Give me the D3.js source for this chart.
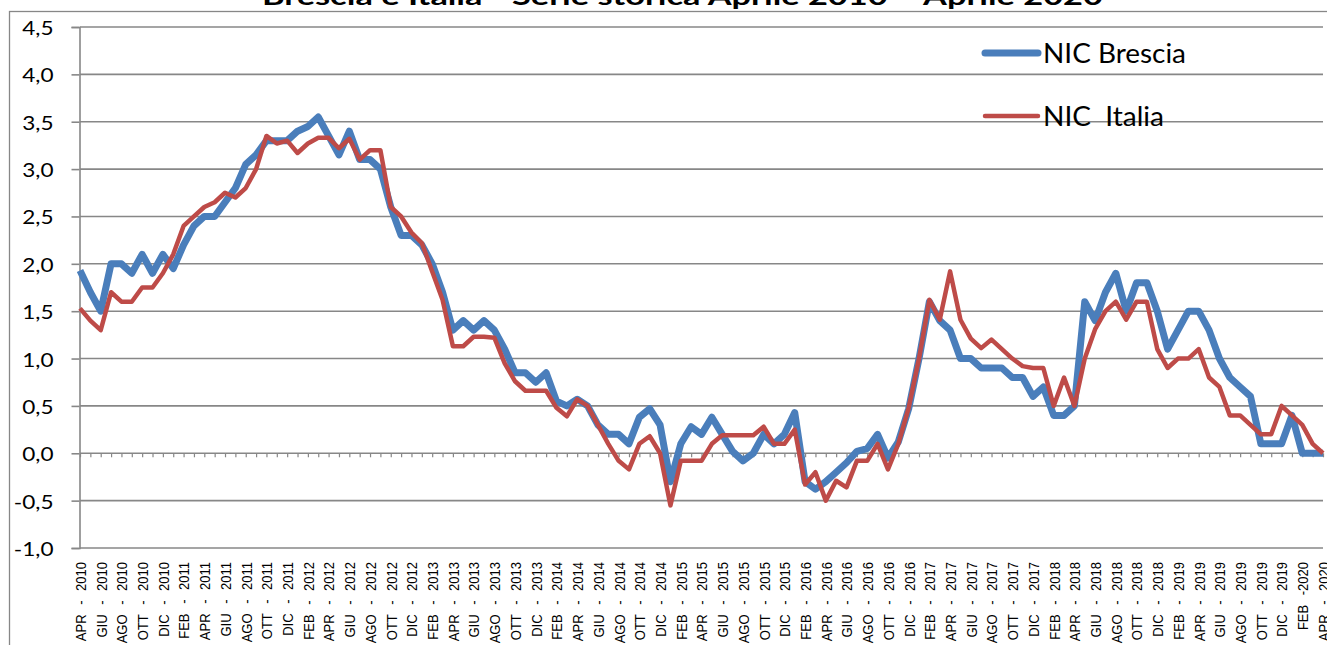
<!DOCTYPE html>
<html>
<head>
<meta charset="utf-8">
<script src="https://cdn.jsdelivr.net/npm/d3@7"></script>
<style>
body { margin: 0; background: #fff; }
svg { display: block; }
</style>
</head>
<body>
<div id="main_div"></div>
<script>
var categories = [
    "APR - 2010","MAG - 2010","GIU - 2010","LUG - 2010","AGO - 2010","SET - 2010","OTT - 2010","NOV - 2010","DIC - 2010",
    "GEN - 2011","FEB - 2011","MAR - 2011","APR - 2011","MAG - 2011","GIU - 2011","LUG - 2011","AGO - 2011","SET - 2011","OTT - 2011","NOV - 2011","DIC - 2011",
    "GEN - 2012","FEB - 2012","MAR - 2012","APR - 2012","MAG - 2012","GIU - 2012","LUG - 2012","AGO - 2012","SET - 2012","OTT - 2012","NOV - 2012","DIC - 2012",
    "GEN - 2013","FEB - 2013","MAR - 2013","APR - 2013","MAG - 2013","GIU - 2013","LUG - 2013","AGO - 2013","SET - 2013","OTT - 2013","NOV - 2013","DIC - 2013",
    "GEN - 2014","FEB - 2014","MAR - 2014","APR - 2014","MAG - 2014","GIU - 2014","LUG - 2014","AGO - 2014","SET - 2014","OTT - 2014","NOV - 2014","DIC - 2014",
    "GEN - 2015","FEB - 2015","MAR - 2015","APR - 2015","MAG - 2015","GIU - 2015","LUG - 2015","AGO - 2015","SET - 2015","OTT - 2015","NOV - 2015","DIC - 2015",
    "GEN - 2016","FEB - 2016","MAR - 2016","APR - 2016","MAG - 2016","GIU - 2016","LUG - 2016","AGO - 2016","SET - 2016","OTT - 2016","NOV - 2016","DIC - 2016",
    "GEN - 2017","FEB - 2017","MAR - 2017","APR - 2017","MAG - 2017","GIU - 2017","LUG - 2017","AGO - 2017","SET - 2017","OTT - 2017","NOV - 2017","DIC - 2017",
    "GEN - 2018","FEB - 2018","MAR - 2018","APR - 2018","MAG - 2018","GIU - 2018","LUG - 2018","AGO - 2018","SET - 2018","OTT - 2018","NOV - 2018","DIC - 2018",
    "GEN - 2019","FEB - 2019","MAR - 2019","APR - 2019","MAG - 2019","GIU - 2019","LUG - 2019","AGO - 2019","SET - 2019","OTT - 2019","NOV - 2019","DIC - 2019",
    "GEN - 2020","FEB - 2020","MAR - 2020","APR - 2020"
];

// labels shown on the axis (one every two months)
var tickLabels = [
    "APR - 2010","GIU - 2010","AGO - 2010","OTT - 2010","DIC - 2010",
    "FEB - 2011","APR - 2011","GIU - 2011","AGO - 2011","OTT - 2011","DIC - 2011",
    "FEB - 2012","APR - 2012","GIU - 2012","AGO - 2012","OTT - 2012","DIC - 2012",
    "FEB - 2013","APR - 2013","GIU - 2013","AGO - 2013","OTT - 2013","DIC - 2013",
    "FEB - 2014","APR - 2014","GIU - 2014","AGO - 2014","OTT - 2014","DIC - 2014",
    "FEB - 2015","APR - 2015","GIU - 2015","AGO - 2015","OTT - 2015","DIC - 2015",
    "FEB - 2016","APR - 2016","GIU - 2016","AGO - 2016","OTT - 2016","DIC - 2016",
    "FEB - 2017","APR - 2017","GIU - 2017","AGO - 2017","OTT - 2017","DIC - 2017",
    "FEB - 2018","APR - 2018","GIU - 2018","AGO - 2018","OTT - 2018","DIC - 2018",
    "FEB - 2019","APR - 2019","GIU - 2019","AGO - 2019","OTT - 2019","DIC - 2019",
    "FEB -2020","APR - 2020"
];

var yTicks = [-1.0, -0.5, 0.0, 0.5, 1.0, 1.5, 2.0, 2.5, 3.0, 3.5, 4.0, 4.5];

var nicBrescia = [
    1.93, 1.7, 1.5, 2.0, 2.0, 1.9, 2.1, 1.9, 2.1, 1.95,
    2.2, 2.4, 2.5, 2.5, 2.65, 2.8, 3.05, 3.15, 3.3, 3.3,
    3.3, 3.4, 3.45, 3.55, 3.35, 3.15, 3.4, 3.1, 3.1, 3.0,
    2.6, 2.3, 2.3, 2.2, 2.0, 1.7, 1.3, 1.4, 1.3, 1.4,
    1.3, 1.1, 0.85, 0.85, 0.75, 0.85, 0.55, 0.5, 0.57, 0.5,
    0.3, 0.2, 0.2, 0.1, 0.38, 0.47, 0.3, -0.3, 0.1, 0.28,
    0.2, 0.38, 0.2, 0.02, -0.08, 0.0, 0.2, 0.1, 0.2, 0.43,
    -0.3, -0.38, -0.3, -0.2, -0.1, 0.02, 0.05, 0.2, -0.05, 0.12,
    0.47, 1.0, 1.6, 1.4, 1.3, 1.0, 1.0, 0.9, 0.9, 0.9,
    0.8, 0.8, 0.6, 0.7, 0.4, 0.4, 0.5, 1.6, 1.4, 1.7,
    1.9, 1.5, 1.8, 1.8, 1.5, 1.1, 1.3, 1.5, 1.5, 1.3,
    1.0, 0.8, 0.7, 0.6, 0.1, 0.1, 0.1, 0.4, 0.0, 0.0,
    0.0
];

var nicItalia = [
    1.53, 1.4, 1.3, 1.7, 1.6, 1.6, 1.75, 1.75, 1.9, 2.1,
    2.4, 2.5, 2.6, 2.65, 2.75, 2.7, 2.8, 3.0, 3.35, 3.27,
    3.3, 3.17, 3.27, 3.33, 3.33, 3.22, 3.32, 3.1, 3.2, 3.2,
    2.6, 2.5, 2.33, 2.22, 1.92, 1.62, 1.13, 1.13, 1.23, 1.23,
    1.22, 0.95, 0.76, 0.66, 0.66, 0.66, 0.48, 0.39, 0.57, 0.5,
    0.3, 0.1, -0.08, -0.17, 0.1, 0.18, 0.0, -0.55, -0.08, -0.08,
    -0.08, 0.1, 0.19, 0.19, 0.19, 0.19, 0.28, 0.1, 0.1, 0.25,
    -0.33, -0.2, -0.5, -0.29, -0.36, -0.08, -0.08, 0.1, -0.17, 0.1,
    0.48, 1.0, 1.62, 1.41, 1.92, 1.41, 1.21, 1.11, 1.2, 1.1,
    1.0, 0.92, 0.9, 0.9, 0.5, 0.8, 0.5, 1.0, 1.31, 1.5,
    1.6, 1.41, 1.6, 1.6, 1.1, 0.9, 1.0, 1.0, 1.1, 0.8,
    0.7, 0.4, 0.4, 0.3, 0.2, 0.2, 0.5, 0.4, 0.3, 0.1,
    0.0
];

var width = 1327, height = 645;
var gridColor = "#878787";

var x_scale = d3.scalePoint().domain(categories).range([80, 1323]);
var y_scale = d3.scaleLinear().domain([-1, 4.5]).range([548, 27]);

var svg = d3.select("#main_div").append("svg").attr("width", width).attr("height", height);

// outer chart border
svg.append("rect")
    .attr("x", 9.5).attr("y", 11.5)
    .attr("width", width + 10).attr("height", height + 10)
    .attr("fill", "none").attr("stroke", gridColor).attr("stroke-width", 1.3);

// title (top is cut by the frame in the original)
svg.append("text")
    .attr("x", 262).attr("y", 5)
    .attr("textLength", 841).attr("lengthAdjust", "spacingAndGlyphs")
    .attr("font-family", "Lato, 'Open Sans', sans-serif")
    .attr("font-weight", "bold").attr("font-size", 24)
    .text("Brescia e Italia  - Serie storica Aprile 2010 – Aprile 2020");

// horizontal gridlines
svg.append("g").selectAll("line").data(yTicks).enter().append("line")
    .attr("x1", 80).attr("x2", 1323)
    .attr("y1", function(d) { return y_scale(d); })
    .attr("y2", function(d) { return y_scale(d); })
    .attr("stroke", gridColor).attr("stroke-width", 1.6);

// y axis
var g_y = svg.append("g").attr("transform", "translate(79.5,0)")
    .call(d3.axisLeft(y_scale).tickValues(yTicks).tickSize(8).tickFormat(function(d) {
        return d3.format(".1f")(d).replace(".", ",").replace("−", "-");
    }));
g_y.select(".domain").attr("stroke", gridColor).attr("stroke-width", 1.6);
g_y.selectAll(".tick line").attr("stroke", gridColor).attr("stroke-width", 1.6);
g_y.selectAll(".tick text")
    .attr("x", 0).attr("dy", 0)
    .attr("transform", "translate(-26,7.5) scale(1.22,1)")
    .attr("text-anchor", "end")
    .attr("fill", "#000")
    .attr("font-family", "Lato, Calibri, sans-serif")
    .attr("font-size", 18.5);

// small category ticks on the zero line
var g_zero = svg.append("g").attr("transform", "translate(0," + y_scale(0) + ")")
    .call(d3.axisBottom(x_scale).tickSize(4).tickFormat(""));
g_zero.select(".domain").remove();
g_zero.selectAll(".tick line").attr("stroke", gridColor).attr("stroke-width", 1.2);

// category labels at the bottom
var evenCats = categories.filter(function(d, i) { return i % 2 === 0; });
var g_x = svg.append("g").attr("transform", "translate(0," + y_scale(-1) + ")")
    .call(d3.axisBottom(x_scale).tickValues(evenCats).tickSize(0).tickFormat(function(d, i) {
        return tickLabels[i];
    }));
g_x.select(".domain").remove();
g_x.selectAll(".tick text")
    .attr("x", 0).attr("y", 0).attr("dy", "0.35em")
    .attr("transform", "translate(0,14) scale(1.18,1) rotate(-90)")
    .attr("text-anchor", "end")
    .style("word-spacing", "6px")
    .attr("fill", "#000")
    .attr("font-family", "'Liberation Sans', Arial, sans-serif")
    .attr("font-size", 13);

// series
var line = d3.line()
    .x(function(d, i) { return x_scale(categories[i]); })
    .y(function(d) { return y_scale(d); });

svg.append("path").datum(nicBrescia)
    .attr("d", line)
    .attr("fill", "none").attr("stroke", "#4A7EBB").attr("stroke-width", 7)
    .attr("stroke-linejoin", "round");

svg.append("path").datum(nicItalia)
    .attr("d", line)
    .attr("fill", "none").attr("stroke", "#BE4B48").attr("stroke-width", 4.5)
    .attr("stroke-linejoin", "round");

// legend
var legend = [
    { name: "NIC Brescia", color: "#4A7EBB", w: 7, y: 53, len: 143 },
    { name: "NIC  Italia", color: "#BE4B48", w: 4.5, y: 116, len: 121 }
];
var lg = svg.append("g").selectAll("g").data(legend).enter().append("g");
lg.append("line")
    .attr("x1", 985).attr("x2", 1038)
    .attr("y1", function(d) { return d.y; }).attr("y2", function(d) { return d.y; })
    .attr("stroke", function(d) { return d.color; })
    .attr("stroke-width", function(d) { return d.w; })
    .attr("stroke-linecap", "round");
lg.append("text")
    .attr("x", 1043).attr("y", function(d) { return d.y + 10; })
    .attr("textLength", function(d) { return d.len; })
    .attr("lengthAdjust", "spacingAndGlyphs")
    .style("white-space", "pre")
    .attr("font-family", "Lato, Calibri, sans-serif")
    .attr("font-size", 27)
    .attr("fill", "#000")
    .text(function(d) { return d.name; });
</script>
</body>
</html>
